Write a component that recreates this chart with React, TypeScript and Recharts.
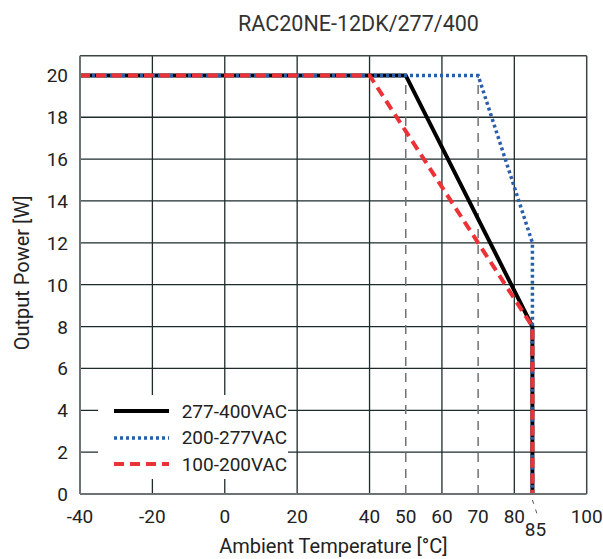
import React from 'react';
import { LineChart, Line, XAxis, YAxis, ReferenceLine } from 'recharts';

// derating curves: ambient temperature [°C] vs output power [W]
const temps277to400 = [-40, 50, 85, 85];
const power277to400 = [20, 20, 8, 0];
const temps200to277 = [-40, 70, 85, 85];
const power200to277 = [20, 20, 12, 0];
const temps100to200 = [-40, 40, 85, 85];
const power100to200 = [20, 20, 8, 0];

const xTicks = [-40, -20, 0, 20, 40, 50, 60, 70, 80, 85, 100];
const yTicks = [0, 2, 4, 6, 8, 10, 12, 14, 16, 18, 20];
const gridX = [-20, 0, 20, 40, 60, 80];
const gridY = [2, 4, 6, 8, 10, 12, 14, 16, 18];
const markerTemps = [50, 70];

const TITLE = 'RAC20NE-12DK/277/400';
const FONT = "'Liberation Sans Narrow', Roboto, sans-serif";
const Y_MAX = 20.94;

const toPoints = (t: number[], p: number[]) => t.map((temp, i) => ({ temp, power: p[i] }));

const series = [
  { name: '277-400VAC', data: toPoints(temps277to400, power277to400), color: '#000000', width: 4, dash: undefined },
  { name: '200-277VAC', data: toPoints(temps200to277, power200to277), color: '#2a5dab', width: 3.5, dash: '3 3' },
  { name: '100-200VAC', data: toPoints(temps100to200, power100to200), color: '#ec3237', width: 4, dash: '10 6' },
];

const XTick = ({ x, y, payload }: any) => {
  const v = payload.value;
  if (v === 85) {
    return (
      <g>
        <line x1={x} y1={y + 4} x2={x + 5} y2={y + 19} stroke="#555" strokeWidth={1} strokeDasharray="4 6" />
        <text x={x + 3} y={y + 40} textAnchor="middle" fill="#222" fontSize={19} fontFamily={FONT}>{v}</text>
      </g>
    );
  }
  return (
    <text x={x} y={y + 27} textAnchor="middle" fill="#222" fontSize={19} fontFamily={FONT}>{v}</text>
  );
};

const YTick = ({ x, y, payload }: any) => (
  <text x={x - 10} y={y + 7} textAnchor="end" fill="#222" fontSize={19} fontFamily={FONT}>{payload.value}</text>
);

const LegendBox = () => (
  <div style={{ position: 'absolute', left: 97.7, top: 395, background: '#fff', width: 190, height: 84, fontFamily: FONT, fontSize: 19, color: '#222' }}>
    {series.map((s, i) => (
      <div key={s.name} style={{ position: 'absolute', left: 16, top: 5 + i * 26.5, display: 'flex', alignItems: 'center', height: 22, whiteSpace: 'nowrap' }}>
        <svg width={56} height={10} style={{ marginRight: 12 }}>
          <line x1={0} y1={5} x2={55} y2={5} stroke={s.color} strokeWidth={s.width} strokeDasharray={s.dash} />
        </svg>
        <span>{s.name}</span>
      </div>
    ))}
  </div>
);

export default function App() {
  return (
    <div style={{ position: 'absolute', left: 0, top: 0, width: 603, height: 559, background: '#fff' }}>
      <div style={{ position: 'absolute', left: 0, width: 717, top: 11, textAlign: 'center', fontFamily: FONT, fontSize: 21.5, color: '#333', whiteSpace: 'nowrap' }}>
        {TITLE}
      </div>
      <LineChart width={603} height={559} margin={{ top: 55.7, right: 16.3, bottom: 0, left: 0 }}>
        <XAxis
          type="number"
          dataKey="temp"
          domain={[-40, 100]}
          ticks={xTicks}
          interval={0}
          tick={<XTick />}
          tickLine={false}
          tickSize={0}
          height={65}
          axisLine={{ stroke: '#6d7272', strokeWidth: 2 }}
          allowDuplicatedCategory={false}
          label={{
            content: ({ viewBox }: any) => (
              <text x={viewBox.x + viewBox.width / 2} y={viewBox.y + 59} textAnchor="middle" fill="#222" fontSize={20} fontFamily={FONT}>
                Ambient Temperature [°C]
              </text>
            ),
          }}
        />
        <YAxis
          type="number"
          dataKey="power"
          domain={[0, Y_MAX]}
          ticks={yTicks}
          interval={0}
          tick={<YTick />}
          tickLine={false}
          tickSize={0}
          width={80}
          axisLine={{ stroke: '#6d7272', strokeWidth: 2 }}
          label={{
            content: ({ viewBox }: any) => {
              const cx = 29;
              const cy = viewBox.y + viewBox.height / 2 - 2;
              return (
                <text x={cx} y={cy} transform={`rotate(-90 ${cx} ${cy})`} textAnchor="middle" fill="#222" fontSize={20} fontFamily={FONT}>
                  Output Power [W]
                </text>
              );
            },
          }}
        />
        {gridX.map((t) => (
          <ReferenceLine key={'gx' + t} x={t} stroke="#1f2b2b" strokeWidth={1.3} />
        ))}
        {gridY.map((p) => (
          <ReferenceLine key={'gy' + p} y={p} stroke="#1f2b2b" strokeWidth={1.3} />
        ))}
        <ReferenceLine x={100} stroke="#3c4444" strokeWidth={1.5} />
        <ReferenceLine y={Y_MAX} stroke="#3c4444" strokeWidth={1.5} />
        {markerTemps.map((t) => (
          <ReferenceLine key={'m' + t} segment={[{ x: t, y: 0 }, { x: t, y: 20 }]} stroke="#6d7272" strokeWidth={1.5} strokeDasharray="9 7" />
        ))}
        {series.map((s) => (
          <Line
            key={s.name}
            data={s.data}
            dataKey="power"
            name={s.name}
            type="linear"
            stroke={s.color}
            strokeWidth={s.width}
            strokeDasharray={s.dash}
            dot={false}
            activeDot={false}
            isAnimationActive={false}
          />
        ))}
      </LineChart>
      <LegendBox />
    </div>
  );
}
